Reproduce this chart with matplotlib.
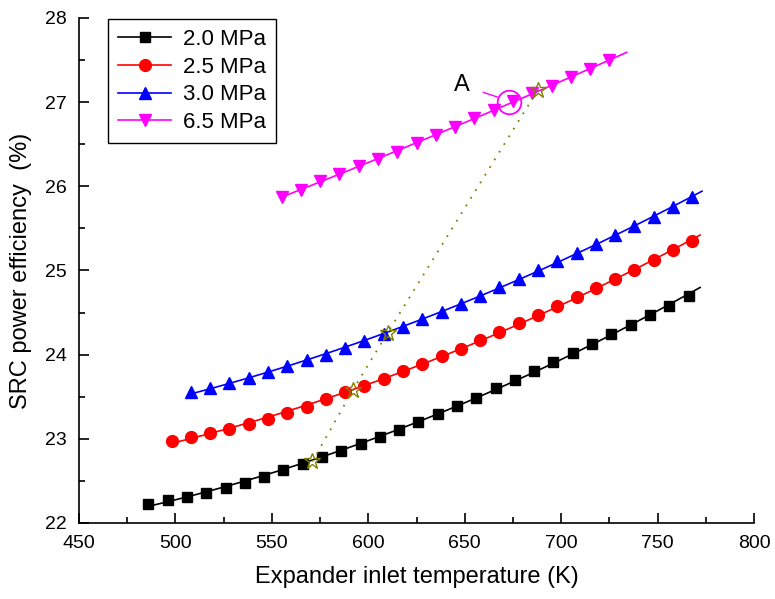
import numpy as np
import matplotlib
matplotlib.use("Agg")
import matplotlib.pyplot as plt
from matplotlib.lines import Line2D

plt.rcParams['font.family'] = ['Liberation Sans', 'DejaVu Sans']

# expander inlet temperature (K) and SRC power efficiency (%) per pressure
t_20 = [486, 496, 506, 516, 526, 536, 546, 556, 566, 576, 586, 596, 606, 616, 626,
        636, 646, 656, 666, 676, 686, 696, 706, 716, 726, 736, 746, 756, 766]
eff_20 = [22.23, 22.27, 22.31, 22.36, 22.42, 22.48, 22.55, 22.63, 22.70, 22.78,
          22.86, 22.94, 23.02, 23.11, 23.20, 23.30, 23.39, 23.49, 23.60, 23.70,
          23.81, 23.91, 24.02, 24.13, 24.24, 24.35, 24.47, 24.58, 24.70]

t_25 = [498, 508, 518, 528, 538, 548, 558, 568, 578, 588, 598, 608, 618, 628,
        638, 648, 658, 668, 678, 688, 698, 708, 718, 728, 738, 748, 758, 768]
eff_25 = [22.97, 23.02, 23.07, 23.12, 23.18, 23.24, 23.31, 23.38, 23.47, 23.55,
          23.63, 23.71, 23.80, 23.89, 23.98, 24.07, 24.17, 24.27, 24.37, 24.47,
          24.58, 24.69, 24.79, 24.90, 25.01, 25.13, 25.24, 25.35]

t_30 = [508, 518, 528, 538, 548, 558, 568, 578, 588, 598, 608, 618, 628, 638,
        648, 658, 668, 678, 688, 698, 708, 718, 728, 738, 748, 758, 768]
eff_30 = [23.55, 23.60, 23.66, 23.72, 23.79, 23.86, 23.93, 24.00, 24.08, 24.16,
          24.25, 24.33, 24.42, 24.51, 24.60, 24.70, 24.80, 24.90, 25.00, 25.11,
          25.21, 25.32, 25.42, 25.53, 25.64, 25.75, 25.87]

t_65 = [555, 565, 575, 585, 595, 605, 615, 625, 635, 645, 655, 665, 675, 685,
        695, 705, 715, 725]
eff_65 = [25.87, 25.96, 26.06, 26.15, 26.24, 26.32, 26.41, 26.51, 26.61, 26.71,
          26.81, 26.91, 27.01, 27.11, 27.19, 27.30, 27.39, 27.50]

labels = ['2.0 MPa', '2.5 MPa', '3.0 MPa', '6.5 MPa']
fit_end = [772, 772, 773, 734]   # fitted curves run a bit past the last point

# optimum points (stars) joined by the dotted line
star_t = [571, 592, 610, 688]
star_eff = [22.73, 23.58, 24.26, 27.15]

# point A
a_t, a_eff = 673, 27.0

series = [(t_20, eff_20, 'black', 's', 7),
          (t_25, eff_25, 'red', 'o', 8.5),
          (t_30, eff_30, 'blue', '^', 9),
          (t_65, eff_65, 'magenta', 'v', 9)]

fig = plt.figure(figsize=(7.75, 5.99), dpi=100)
ax = fig.add_axes([0.102, 0.127, 0.871, 0.843])

handles = []
for (t, e, c, m, ms), lab, tend in zip(series, labels, fit_end):
    coef = np.polyfit(t, e, 2)
    tt = np.linspace(t[0], tend, 200)
    ax.plot(tt, np.polyval(coef, tt), color=c, lw=1.2, zorder=2)
    ax.plot(t, e, ls='none', marker=m, ms=ms, color=c, mec=c, zorder=3)
    handles.append(Line2D([], [], color=c, lw=1.2, marker=m, ms=ms, label=lab))

ax.plot(star_t, star_eff, ls=(0, (1, 4)), color='#808000', lw=1.3, zorder=4)
ax.plot(star_t, star_eff, ls='none', marker='*', ms=12, mfc='none',
        mec='#808000', mew=1.0, zorder=5)

ax.plot(a_t, a_eff, marker='o', ms=17, mfc='none', mec='magenta', mew=1.3, zorder=6)
ax.annotate('A', xy=(a_t - 6, a_eff + 0.06), xytext=(648.5, 27.2),
            fontsize=17, ha='center', va='center',
            arrowprops=dict(arrowstyle='-', color='magenta', lw=1.0,
                            shrinkA=8, shrinkB=0))

ax.set_xlim(450, 800)
ax.set_ylim(22, 28)
ax.set_xticks(np.arange(450, 801, 50))
ax.set_yticks(np.arange(22, 28.1, 1))
ax.set_xticks(np.arange(475, 800, 50), minor=True)
ax.set_yticks(np.arange(22.5, 28, 1), minor=True)
ax.tick_params(which='both', direction='in', labelsize=14, width=1.2)
ax.tick_params(which='major', length=7)
ax.tick_params(which='minor', length=4)
ax.tick_params(axis='x', pad=9)
ax.tick_params(axis='y', pad=9)
ax.spines['top'].set_visible(False)
ax.spines['right'].set_visible(False)
for s in ['left', 'bottom']:
    ax.spines[s].set_linewidth(1.2)

ax.set_xlabel('Expander inlet temperature (K)', fontsize=17, labelpad=10)
ax.set_ylabel('SRC power efficiency  (%)', fontsize=17, labelpad=9)

leg = ax.legend(handles=handles, loc='upper left', bbox_to_anchor=(0.043, 0.998),
                borderaxespad=0, fontsize=16, handlelength=2.4, fancybox=False,
                edgecolor='black', framealpha=1, labelspacing=0.3,
                borderpad=0.45, handletextpad=0.5)
leg.get_frame().set_linewidth(1.0)

fig.savefig('out.png', dpi=100)
